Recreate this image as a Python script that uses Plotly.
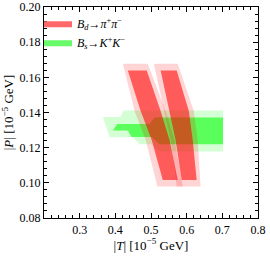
import plotly.graph_objects as go

# ---- data (|T|, |P| in units of 1e-5 GeV) ----
# B_d -> pi+ pi- : two allowed bands (inner = 1 sigma, outer = 2 sigma)
bd_levels_inner = [0.1639, 0.1409, 0.1244, 0.1016]
bd_band1_inner_left = [0.435, 0.471, 0.502, 0.533]
bd_band1_inner_right = [0.488, 0.527, 0.552, 0.575]
bd_band2_inner_left = [0.527, 0.552, 0.569, 0.586]
bd_band2_inner_right = [0.572, 0.606, 0.617, 0.628]

bd_levels_outer = [0.1677, 0.1409, 0.1244, 0.0979]
bd_band1_outer_left = [0.421, 0.454, 0.485, 0.518]
bd_band1_outer_right = [0.491, 0.541, 0.566, 0.589]
bd_band2_outer_left = [0.508, 0.538, 0.555, 0.572]
bd_band2_outer_right = [0.575, 0.620, 0.631, 0.639]

# B_s -> K+ K- : allowed regions
bs_inner_T = [0.393, 0.405, 0.496, 0.510, 0.702, 0.702, 0.524, 0.502, 0.445, 0.4355]
bs_inner_P = [0.1297, 0.1335, 0.1335, 0.1371, 0.1371, 0.1220, 0.1220, 0.1260, 0.1260, 0.1297]
bs_outer_T = [0.365, 0.414, 0.423, 0.702, 0.702, 0.524, 0.502, 0.468, 0.449, 0.384]
bs_outer_P = [0.1374, 0.1374, 0.1412, 0.1412, 0.1178, 0.1178, 0.1220, 0.1220, 0.1259, 0.1259]

x_ticks = [0.3, 0.4, 0.5, 0.6, 0.7, 0.8]
y_ticks = [0.08, 0.10, 0.12, 0.14, 0.16, 0.18, 0.20]

RED_IN = "rgba(255,0,0,0.57)"
RED_OUT = "rgba(255,0,0,0.17)"
GRN_IN = "rgba(0,255,0,0.57)"
GRN_OUT = "rgba(0,255,0,0.17)"

label_bd = "<i>B</i><sub><i>d</i></sub>→<i>π</i><sup>+</sup><i>π</i><sup>−</sup>"
label_bs = "<i>B</i><sub><i>s</i></sub>→<i>K</i><sup>+</sup><i>K</i><sup>−</sup>"

FONT = "Liberation Serif"


def band(left, right, levels):
    xs = list(left) + list(reversed(right)) + [left[0]]
    ys = list(levels) + list(reversed(levels)) + [levels[0]]
    return xs, ys


fig = go.Figure()

# green regions
fig.add_trace(go.Scatter(x=bs_outer_T + [bs_outer_T[0]], y=bs_outer_P + [bs_outer_P[0]],
                         fill="toself", fillcolor=GRN_OUT, mode="lines",
                         line=dict(width=0), showlegend=False, hoverinfo="skip"))
fig.add_trace(go.Scatter(x=bs_inner_T + [bs_inner_T[0]], y=bs_inner_P + [bs_inner_P[0]],
                         fill="toself", fillcolor=GRN_IN, mode="lines",
                         line=dict(width=0), showlegend=False, hoverinfo="skip"))

# red regions
for l, r in [(bd_band1_outer_left, bd_band1_outer_right), (bd_band2_outer_left, bd_band2_outer_right)]:
    xs, ys = band(l, r, bd_levels_outer)
    fig.add_trace(go.Scatter(x=xs, y=ys, fill="toself", fillcolor=RED_OUT, mode="lines",
                             line=dict(width=0), showlegend=False, hoverinfo="skip"))
for l, r in [(bd_band1_inner_left, bd_band1_inner_right), (bd_band2_inner_left, bd_band2_inner_right)]:
    xs, ys = band(l, r, bd_levels_inner)
    fig.add_trace(go.Scatter(x=xs, y=ys, fill="toself", fillcolor=RED_IN, mode="lines",
                             line=dict(width=0), showlegend=False, hoverinfo="skip"))

# legend entries (fill-style swatches)
fig.add_trace(go.Scatter(x=[None, None], y=[None, None], mode="lines", fill="toself",
                         fillcolor="rgb(255,105,105)", line=dict(width=0, color="rgba(0,0,0,0)"),
                         name=label_bd))
fig.add_trace(go.Scatter(x=[None, None], y=[None, None], mode="lines", fill="toself",
                         fillcolor="rgb(105,250,105)", line=dict(width=0, color="rgba(0,0,0,0)"),
                         name=label_bs))

axis_common = dict(
    showgrid=False, zeroline=False, showline=True, linecolor="black", linewidth=1.2,
    mirror="allticks", ticks="inside", ticklen=5, tickwidth=1, tickcolor="black",
    automargin=False,
    tickfont=dict(family=FONT, size=12, color="black"),
)

fig.update_xaxes(range=[0.2, 0.8], tickvals=x_ticks, ticktext=[f"{v:.1f}" for v in x_ticks],
                 minor=dict(dtick=0.02, tick0=0.2, ticks="inside", ticklen=3, tickcolor="black"),
                 title=dict(text="|<i>T</i>| [10<sup>−5</sup> GeV]", standoff=3,
                            font=dict(family=FONT, size=13, color="black")),
                 **axis_common)
fig.update_yaxes(range=[0.08, 0.20], tickvals=y_ticks, ticktext=[f"{v:.2f}" for v in y_ticks],
                 minor=dict(dtick=0.004, tick0=0.08, ticks="inside", ticklen=3, tickcolor="black"),
                 title=dict(text="|<i>P</i>| [10<sup>−5</sup> GeV]", standoff=3,
                            font=dict(family=FONT, size=13, color="black")),
                 **axis_common)

fig.update_layout(
    width=270, height=258,
    margin=dict(l=44, r=12, t=7, b=40, autoexpand=False),
    plot_bgcolor="white", paper_bgcolor="white",
    legend=dict(x=0.0, y=0.992, xanchor="left", yanchor="top", indentation=-7,
                bgcolor="rgba(0,0,0,0)", itemwidth=30, tracegroupgap=0,
                font=dict(family=FONT, size=12, color="black")),
)

fig.write_html("out.html", config={"displayModeBar": False},
               post_script="document.body.style.margin='0';")
